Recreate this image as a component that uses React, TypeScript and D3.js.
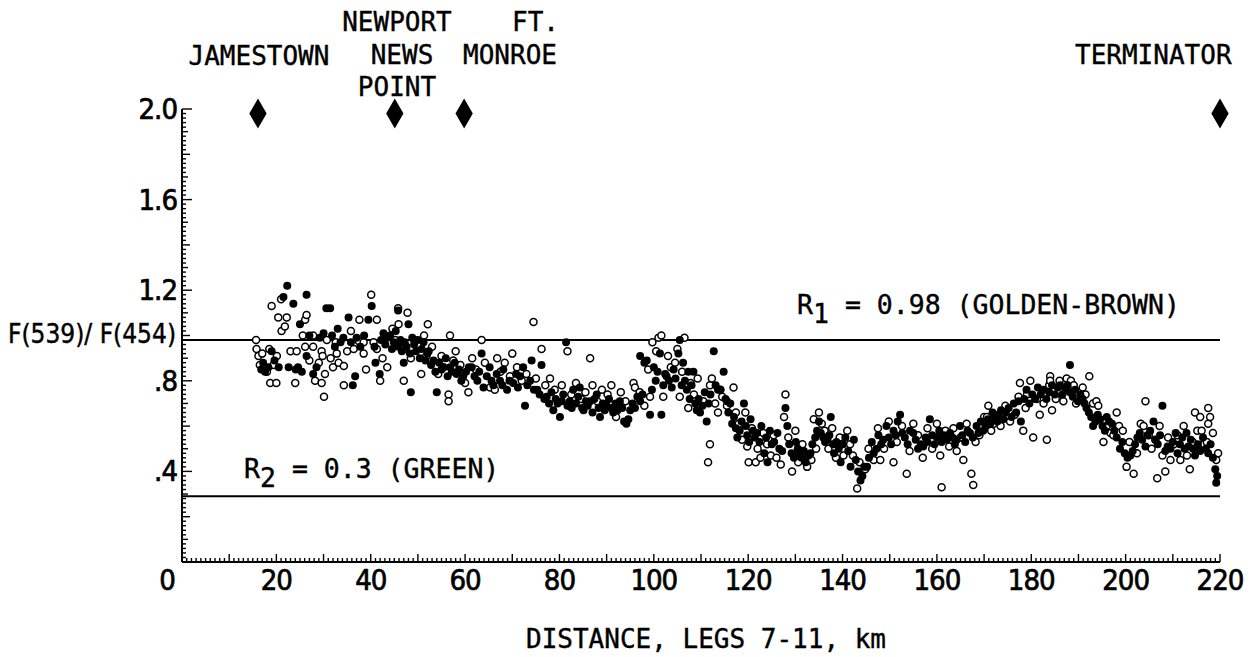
import React from 'react';
import * as d3 from 'd3';

// distance (km) / F(539)/F(454) pairs
const filledPts: [number, number][] = [
  [16.8,0.85],[17.2,0.88],[17.6,0.84],[18.3,0.86],[19.0,0.93],[19.6,0.89],[20.5,0.86],[21.5,1.17],[22.3,1.22],[22.6,0.86],
  [23.6,1.14],[24.1,0.85],[24.6,0.86],[25.0,1.05],[25.4,0.84],[26.4,1.18],[26.4,0.91],[27.0,1.00],[27.8,0.83],[28.5,0.86],
  [29.2,0.99],[30.0,1.01],[30.6,1.12],[31.4,1.12],[31.8,1.00],[32.4,0.95],[33.0,1.03],[33.6,0.97],[34.2,0.99],[35.3,1.08],
  [35.8,0.97],[36.2,0.78],[36.7,0.82],[37.0,0.99],[37.8,0.95],[38.6,1.00],[39.5,1.07],[40.2,1.13],[40.8,0.95],[41.0,0.88],
  [41.9,0.83],[42.2,0.98],[42.7,1.01],[43.1,0.96],[43.5,0.99],[44.1,1.00],[44.5,0.94],[44.9,0.97],[45.3,1.02],[45.8,1.11],
  [45.9,0.95],[46.3,0.98],[46.6,0.93],[47.0,0.88],[47.2,0.97],[47.6,0.95],[48.0,1.05],[48.3,0.92],[48.5,0.75],[48.8,0.99],
  [49.2,0.96],[49.6,0.93],[50.0,0.98],[50.4,0.90],[50.8,0.94],[51.2,0.97],[51.6,0.89],[52.0,0.92],[52.3,0.93],[52.8,0.87],
  [53.3,0.89],[53.7,0.84],[54.0,0.75],[54.5,0.88],[55.0,0.85],[55.4,0.86],[55.9,0.90],[56.3,0.82],[56.8,0.86],[57.2,0.84],
  [57.8,0.88],[58.2,0.83],[58.7,0.85],[59.2,0.80],[59.6,0.82],[60.2,0.84],[60.8,0.86],[61.4,0.86],[62.0,0.82],[62.6,0.80],
  [63.0,0.84],[63.5,0.92],[63.9,0.77],[64.6,0.82],[65.2,0.86],[65.6,0.80],[66.0,0.78],[66.7,0.83],[67.4,0.80],[67.9,0.78],
  [68.1,0.85],[68.9,0.76],[69.4,0.80],[70.2,0.79],[70.8,0.83],[71.2,0.77],[71.6,0.82],[72.3,0.86],[72.7,0.69],[73.2,0.78],
  [73.8,0.80],[74.1,0.89],[74.6,0.76],[75.3,0.76],[75.8,0.74],[76.2,0.87],[76.8,0.72],[77.3,0.73],[77.8,0.70],[78.3,0.75],
  [78.7,0.67],[79.2,0.72],[79.6,0.70],[80.1,0.64],[80.5,0.71],[80.8,0.74],[81.4,0.97],[81.7,0.69],[82.2,0.71],[82.6,0.68],
  [82.9,0.76],[83.5,0.70],[84.0,0.73],[84.3,0.77],[84.8,0.68],[85.1,0.67],[85.6,0.71],[86.0,0.69],[86.5,0.71],[87.0,0.66],
  [87.4,0.72],[87.9,0.74],[88.3,0.68],[88.6,0.64],[89.2,0.70],[89.6,0.67],[90.0,0.69],[90.5,0.72],[91.0,0.68],[91.4,0.66],
  [91.9,0.70],[92.3,0.67],[92.8,0.71],[93.3,0.68],[93.7,0.62],[94.2,0.61],[94.6,0.63],[95.0,0.67],[95.5,0.70],[96.0,0.68],
  [96.5,0.73],[97.1,0.91],[97.1,0.71],[97.6,0.74],[98.0,0.88],[98.5,0.89],[99.2,0.65],[99.6,0.76],[100.0,0.86],[100.4,0.80],
  [100.8,0.84],[101.3,0.92],[101.6,0.65],[102.0,0.78],[102.4,0.83],[102.7,0.82],[103.2,0.80],[103.8,0.77],[104.2,0.85],[104.6,0.81],
  [105.2,0.92],[105.5,0.98],[105.9,0.78],[106.2,0.88],[106.6,0.80],[107.0,0.76],[107.3,0.84],[107.6,0.72],[108.0,0.78],[108.4,0.84],
  [108.8,0.70],[109.1,0.67],[109.5,0.72],[109.8,0.66],[110.3,0.69],[110.8,0.75],[111.2,0.62],[111.6,0.70],[112.0,0.74],[112.7,0.93],
  [113.1,0.78],[113.6,0.76],[114.1,0.76],[114.8,0.84],[115.2,0.72],[115.5,0.71],[115.8,0.66],[116.2,0.70],[116.6,0.61],[117.0,0.64],
  [117.4,0.59],[117.7,0.55],[118.2,0.58],[118.6,0.62],[119.1,0.70],[119.5,0.60],[119.8,0.56],[120.2,0.53],[120.5,0.63],[121.0,0.58],
  [121.4,0.55],[121.9,0.57],[122.4,0.53],[122.8,0.60],[123.4,0.48],[123.8,0.55],[124.1,0.44],[124.6,0.58],[125.0,0.52],[125.5,0.53],
  [126.2,0.57],[126.6,0.50],[127.2,0.49],[127.9,0.68],[128.3,0.60],[128.7,0.52],[129.2,0.48],[129.7,0.46],[130.1,0.53],[130.5,0.50],
  [130.8,0.48],[131.3,0.46],[131.8,0.49],[132.2,0.44],[132.8,0.47],[133.2,0.48],[133.6,0.52],[134.2,0.55],[134.6,0.58],[135.0,0.62],
  [135.4,0.57],[135.9,0.55],[136.3,0.53],[136.8,0.54],[137.2,0.56],[137.5,0.64],[138.0,0.52],[138.2,0.48],[138.7,0.53],[139.2,0.50],
  [139.6,0.44],[140.1,0.52],[140.6,0.55],[141.2,0.49],[141.7,0.42],[142.4,0.54],[142.8,0.45],[143.3,0.40],[143.8,0.36],[144.2,0.38],
  [144.6,0.42],[145.2,0.42],[145.6,0.46],[146.2,0.53],[146.6,0.48],[147.2,0.50],[147.6,0.56],[148.2,0.52],[148.6,0.54],[149.3,0.60],
  [149.8,0.55],[150.3,0.52],[150.8,0.58],[151.3,0.56],[151.7,0.62],[152.2,0.65],[152.7,0.57],[153.2,0.55],[153.8,0.52],[154.3,0.58],
  [155.0,0.57],[155.5,0.54],[156.0,0.50],[156.6,0.52],[157.1,0.51],[157.6,0.55],[158.0,0.53],[158.5,0.63],[159.0,0.56],[159.5,0.52],
  [160.0,0.55],[160.5,0.58],[161.0,0.53],[161.5,0.56],[162.1,0.54],[162.8,0.57],[163.3,0.55],[163.8,0.52],[164.2,0.54],[164.9,0.60],
  [165.4,0.56],[166.0,0.53],[166.5,0.58],[167.0,0.57],[167.6,0.55],[168.4,0.60],[168.8,0.57],[169.3,0.62],[169.8,0.58],[170.3,0.60],
  [170.8,0.63],[171.3,0.61],[171.8,0.66],[172.3,0.64],[172.8,0.62],[173.1,0.65],[173.6,0.67],[174.1,0.63],[174.6,0.66],[175.2,0.68],
  [175.8,0.64],[176.3,0.70],[176.8,0.66],[177.3,0.71],[177.8,0.62],[178.5,0.72],[179.0,0.76],[179.6,0.70],[180.2,0.74],[180.8,0.72],
  [181.4,0.77],[182.0,0.74],[182.6,0.76],[183.2,0.72],[183.8,0.75],[184.4,0.78],[185.0,0.74],[185.6,0.77],[186.1,0.78],[186.6,0.74],
  [187.2,0.76],[187.7,0.78],[188.2,0.87],[188.2,0.75],[188.8,0.73],[189.3,0.76],[189.9,0.71],[190.4,0.74],[190.9,0.72],[191.3,0.70],
  [191.7,0.68],[192.2,0.66],[192.7,0.64],[193.1,0.60],[193.6,0.62],[194.1,0.65],[194.6,0.63],[195.1,0.60],[195.6,0.58],[196.0,0.64],
  [196.5,0.62],[197.1,0.61],[197.6,0.58],[198.1,0.55],[198.8,0.50],[199.3,0.53],[199.8,0.48],[200.4,0.46],[201.0,0.47],[201.5,0.49],
  [202.0,0.52],[202.5,0.55],[203.0,0.57],[203.5,0.54],[204.2,0.51],[204.6,0.56],[205.2,0.58],[205.9,0.62],[206.3,0.54],[206.8,0.52],
  [207.3,0.56],[207.8,0.69],[208.4,0.49],[208.9,0.51],[209.5,0.50],[210.0,0.53],[210.6,0.57],[211.0,0.48],[211.5,0.52],[212.0,0.55],
  [212.5,0.50],[212.9,0.57],[213.3,0.51],[213.8,0.54],[214.3,0.50],[214.7,0.47],[215.3,0.52],[215.8,0.49],[216.4,0.55],[217.0,0.50],
  [217.5,0.48],[218.0,0.52],[218.5,0.46],[219.0,0.41],[219.2,0.35],[219.4,0.38],
];

const openPts: [number, number][] = [
  [15.7,0.98],[15.8,0.94],[16.2,0.91],[16.5,0.87],[17.0,0.92],[18.0,0.84],[18.5,0.94],[18.7,0.79],[19.0,1.13],[19.4,0.87],
  [20.0,0.79],[20.1,0.91],[20.4,1.08],[21.0,1.16],[21.1,1.02],[21.8,1.04],[22.2,1.08],[23.0,0.93],[24.0,0.79],[24.3,0.93],
  [25.6,1.00],[26.1,0.95],[26.1,1.07],[26.4,1.09],[27.0,0.89],[27.8,0.95],[27.8,1.00],[28.2,0.80],[29.0,0.88],[29.6,0.93],
  [29.6,0.79],[29.8,0.91],[30.1,0.73],[30.3,0.83],[30.7,0.98],[31.5,0.90],[32.0,0.86],[32.6,0.97],[32.8,0.92],[33.2,0.88],
  [34.3,0.865],[34.3,0.78],[35.0,0.93],[35.8,1.02],[36.4,0.94],[37.5,0.975],[37.6,1.07],[38.5,0.97],[38.5,0.92],[39.0,0.85],
  [40.1,1.18],[40.6,0.97],[41.3,0.94],[41.3,1.07],[42.0,0.80],[42.5,0.90],[43.5,0.86],[44.6,1.03],[45.2,0.98],[45.8,1.12],
  [45.9,1.05],[46.2,0.97],[47.0,0.80],[47.0,0.94],[47.8,1.10],[48.5,0.90],[49.2,0.98],[50.2,0.96],[50.7,0.83],[51.3,1.00],
  [51.8,0.91],[52.1,1.05],[53.0,0.95],[54.3,0.83],[55.0,0.91],[55.4,0.86],[56.5,0.74],[56.5,0.71],[56.8,1.00],[57.5,0.89],
  [58.0,0.93],[59.0,0.87],[60.0,0.79],[60.7,0.75],[61.5,0.90],[62.3,0.85],[63.5,0.98],[64.2,0.88],[65.3,0.77],[66.3,0.76],
  [66.8,0.90],[67.5,0.84],[68.4,0.88],[69.5,0.82],[70.0,0.92],[71.0,0.86],[72.0,0.80],[73.0,0.83],[74.5,1.06],[75.0,0.81],
  [76.2,0.94],[77.0,0.78],[78.0,0.81],[79.0,0.76],[80.5,0.78],[81.7,0.93],[82.5,0.74],[83.5,0.79],[84.6,0.72],[85.5,0.75],
  [86.5,0.90],[87.0,0.78],[88.0,0.71],[89.0,0.76],[90.2,0.74],[91.0,0.78],[92.0,0.64],[93.0,0.75],[94.0,0.71],[95.7,0.79],
  [96.0,0.77],[97.0,0.75],[98.0,0.69],[98.8,0.85],[99.2,0.73],[99.7,0.97],[100.5,0.93],[101.0,0.99],[101.6,1.00],[102.0,0.73],
  [103.0,0.91],[103.6,0.86],[104.5,0.88],[105.0,0.94],[105.5,0.73],[106.0,0.84],[106.5,0.99],[107.3,0.68],[107.8,0.79],[108.5,0.74],
  [109.3,0.81],[110.5,0.71],[111.5,0.44],[111.9,0.52],[111.9,0.78],[112.3,0.81],[113.0,0.70],[113.6,0.66],[114.1,0.76],[114.5,0.73],
  [115.5,0.69],[116.9,0.77],[117.4,0.66],[118.0,0.61],[118.7,0.54],[119.4,0.66],[119.8,0.51],[120.1,0.44],[120.8,0.59],[121.6,0.44],
  [122.0,0.50],[122.6,0.46],[123.2,0.57],[124.0,0.52],[124.8,0.47],[125.4,0.56],[126.0,0.46],[126.9,0.43],[127.6,0.64],[127.9,0.74],
  [128.5,0.55],[129.3,0.40],[130.0,0.58],[130.6,0.44],[131.5,0.52],[132.5,0.42],[133.4,0.45],[133.9,0.63],[134.4,0.50],[135.0,0.66],
  [135.6,0.61],[136.2,0.58],[137.0,0.50],[137.8,0.59],[138.6,0.46],[139.4,0.55],[140.2,0.47],[141.0,0.58],[141.6,0.52],[142.2,0.47],
  [143.1,0.325],[143.6,0.44],[144.8,0.41],[145.5,0.50],[146.6,0.45],[147.5,0.59],[148.0,0.45],[148.8,0.50],[149.8,0.62],[150.8,0.44],
  [151.5,0.53],[152.6,0.60],[153.6,0.39],[154.2,0.49],[155.0,0.61],[156.0,0.56],[157.0,0.46],[158.0,0.59],[159.0,0.50],[160.0,0.61],
  [160.7,0.47],[161.0,0.33],[161.8,0.58],[162.6,0.51],[163.5,0.59],[164.2,0.49],[165.0,0.55],[165.6,0.45],[166.3,0.61],[167.3,0.39],
  [167.7,0.34],[168.2,0.53],[169.0,0.56],[170.0,0.64],[170.6,0.64],[170.9,0.69],[171.5,0.58],[172.0,0.61],[173.5,0.60],[174.5,0.69],
  [175.5,0.62],[176.5,0.65],[177.3,0.73],[177.6,0.79],[178.3,0.58],[178.8,0.68],[179.1,0.74],[179.8,0.80],[180.4,0.55],[181.2,0.72],
  [181.8,0.65],[182.6,0.70],[183.3,0.54],[183.8,0.78],[184.0,0.82],[184.0,0.80],[184.4,0.67],[185.2,0.72],[186.0,0.80],[186.8,0.71],
  [187.5,0.81],[188.4,0.80],[189.0,0.78],[189.5,0.70],[190.9,0.77],[191.5,0.74],[192.3,0.82],[193.1,0.70],[193.8,0.71],[194.2,0.69],
  [195.3,0.53],[196.0,0.60],[196.8,0.57],[197.4,0.56],[198.1,0.66],[198.6,0.60],[199.4,0.58],[200.2,0.42],[200.8,0.53],[201.7,0.39],
  [202.4,0.48],[203.2,0.61],[203.8,0.60],[204.2,0.71],[204.9,0.56],[205.5,0.50],[206.3,0.54],[206.7,0.37],[207.2,0.60],[207.8,0.47],
  [208.4,0.40],[209.0,0.55],[209.5,0.45],[210.2,0.52],[211.0,0.56],[211.6,0.45],[212.3,0.60],[213.0,0.47],[213.6,0.41],[214.2,0.53],
  [214.7,0.66],[215.2,0.58],[215.8,0.64],[216.1,0.58],[216.6,0.52],[217.2,0.53],[217.5,0.68],[217.5,0.61],[217.9,0.64],[218.5,0.57],
  [219.2,0.45],[219.6,0.48],
];

const xTickLabels = [0, 20, 40, 60, 80, 100, 120, 140, 160, 180, 200, 220];
const yTickLabels = [2.0, 1.6, 1.2, 0.8, 0.4];

// reference ratios
const r1 = 0.98;
const r2 = 0.29;

// landmarks along the track (km)
const landmarkKm = [16.1, 45.1, 59.8, 220];

const W = 1256;
const H = 657;
const MONO = "'DejaVu Sans Mono', monospace";
const NUM = "'Liberation Sans Narrow', 'DejaVu Sans Condensed', sans-serif";

const App = () => {
  const x = d3.scaleLinear().domain([0, 220]).range([182, 1220]);
  const y = d3.scaleLinear().domain([0, 2]).range([562, 109]);

  const xMinor = d3.range(0, 221, 1);
  const yMinor = d3.range(0, 101, 1); // steps of 0.02
  const diamond = d3.symbol(d3.symbolDiamond, 260)();
  const fmtY = (v: number) => (v >= 1 ? v.toFixed(1) : '.' + Math.round(v * 10));

  return (
    <svg width={W} height={H} style={{ position: 'absolute', left: 0, top: 0, background: '#fff' }}>
      {/* labels above the plot */}
      <g fontFamily={MONO} fontSize={26} fill="#000" stroke="#000" strokeWidth={0.4}>
        <text x={259} y={65} textAnchor="middle">JAMESTOWN</text>
        <text x={397} y={31} textAnchor="middle">NEWPORT</text>
        <text x={402} y={64} textAnchor="middle">NEWS</text>
        <text x={397} y={96} textAnchor="middle">POINT</text>
        <text x={512} y={31}>FT.</text>
        <text x={510} y={64} textAnchor="middle">MONROE</text>
        <text x={1075} y={64}>TERMINATOR</text>
      </g>
      {landmarkKm.map((k, i) => (
        <path key={i} d={diamond!} transform={`translate(${x(k)},${y(1.98)})`} fill="#000" />
      ))}

      {/* reference lines */}
      <line x1={x(0)} x2={x(220)} y1={y(r1)} y2={y(r1)} stroke="#000" strokeWidth={2} />
      <line x1={x(0)} x2={x(220)} y1={y(r2)} y2={y(r2)} stroke="#000" strokeWidth={2} />

      {/* axes */}
      <line x1={x(0)} x2={x(220)} y1={y(0)} y2={y(0)} stroke="#000" strokeWidth={2} />
      <line x1={x(0)} x2={x(0)} y1={y(0)} y2={y(2)} stroke="#000" strokeWidth={2} />
      {xMinor.map(k => (
        <line key={'xt' + k} x1={x(k)} x2={x(k)} y1={y(0)} y2={y(0) - (k % 10 === 0 ? 8 : 4)} stroke="#000" strokeWidth={1.4} />
      ))}
      {yMinor.map(k => {
        const len = k % 20 === 0 ? 10 : k % 10 === 0 ? 8 : k % 5 === 0 ? 6 : 4;
        return <line key={'yt' + k} x1={x(0)} x2={x(0) + len} y1={y(k * 0.02)} y2={y(k * 0.02)} stroke="#000" strokeWidth={1.4} />;
      })}
      <g fontFamily={NUM} fontSize={29} fill="#000" stroke="#000" strokeWidth={0.7} letterSpacing={-1}>
        {xTickLabels.map(v => (
          <text key={'xl' + v} x={v === 0 ? x(v) - 15 : x(v)} y={590} textAnchor="middle">{v}</text>
        ))}
        {yTickLabels.map(v => (
          <text key={'yl' + v} x={177} y={y(v) + 10} textAnchor="end">{fmtY(v)}</text>
        ))}
      </g>
      <text x={8} y={343} fontFamily={NUM} fontSize={26} fill="#000" stroke="#000" strokeWidth={0.4}>F(539)/ F(454)</text>
      <text x={706} y={648} textAnchor="middle" fontFamily={MONO} fontSize={26} fill="#000" stroke="#000" strokeWidth={0.4}>DISTANCE, LEGS 7-11, km</text>

      {/* ratio annotations */}
      <g fontFamily={MONO} fontSize={26.5} fill="#000" stroke="#000" strokeWidth={0.4}>
        <text x={797} y={314}>
          R<tspan dy={9}>1</tspan><tspan dy={-9}> = 0.98 (GOLDEN-BROWN)</tspan>
        </text>
        <text x={244} y={478}>
          R<tspan dy={9}>2</tspan><tspan dy={-9}> = 0.3 (GREEN)</tspan>
        </text>
      </g>

      {/* data */}
      <g>
        {openPts.map((d, i) => (
          <circle key={'o' + i} cx={x(d[0])} cy={y(d[1])} r={3.5} fill="#fff" stroke="#000" strokeWidth={1.5} />
        ))}
        {filledPts.map((d, i) => (
          <circle key={'f' + i} cx={x(d[0])} cy={y(d[1])} r={4} fill="#000" />
        ))}
      </g>
    </svg>
  );
};

export default App;
